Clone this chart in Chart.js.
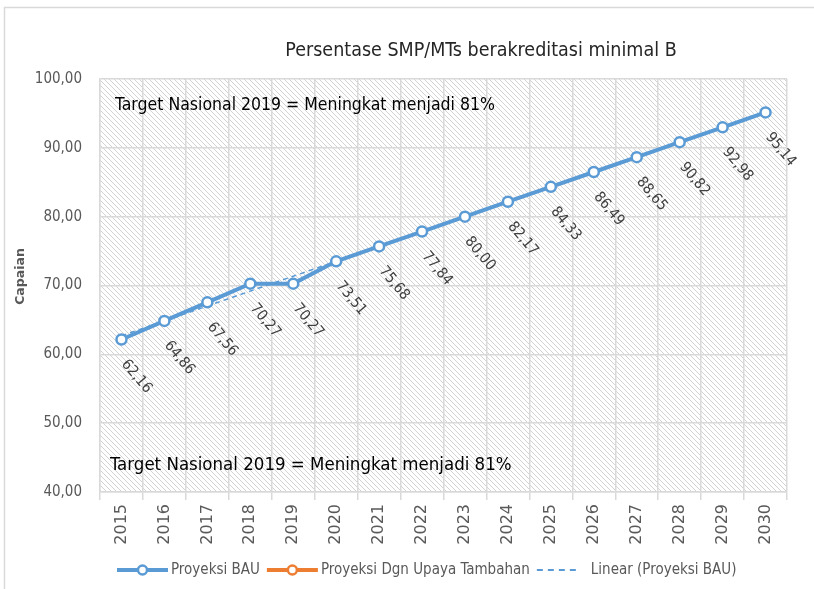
<!DOCTYPE html>
<html>
<head>
<meta charset="utf-8">
<script src="https://cdn.jsdelivr.net/npm/chart.js@4/dist/chart.umd.min.js"></script>
<style>
  html, body { margin: 0; padding: 0; background: #fff; }
  #wrap { width: 814px; height: 589px; }
</style>
</head>
<body>
<div id="wrap"><canvas id="c" width="814" height="589"></canvas></div>
<script>
// Categories and series
const years = ['2015','2016','2017','2018','2019','2020','2021','2022',
               '2023','2024','2025','2026','2027','2028','2029','2030'];
const proyeksiBAU = [62.16, 64.86, 67.56, 70.27, 70.27, 73.51, 75.68, 77.84,
                     80.00, 82.17, 84.33, 86.49, 88.65, 90.82, 92.98, 95.14];
const proyeksiUpaya = [];
const yMin = 40, yMax = 100, yStep = 10;

const chartTitle = 'Persentase SMP/MTs berakreditasi minimal B';
const targetNote = 'Target Nasional 2019 = Meningkat menjadi 81%';
const yTitle = 'Capaian';
const seriesNames = ['Proyeksi BAU', 'Proyeksi Dgn Upaya Tambahan', 'Linear (Proyeksi BAU)'];

// Least-squares trend of the BAU projection
function linearTrend(vals) {
  const n = vals.length;
  let sx = 0, sy = 0, sxy = 0, sxx = 0;
  vals.forEach((v, i) => { sx += i; sy += v; sxy += i * v; sxx += i * i; });
  const b = (n * sxy - sx * sy) / (n * sxx - sx * sx);
  const a = (sy - b * sx) / n;
  return vals.map((_, i) => a + b * i);
}
const trendBAU = linearTrend(proyeksiBAU);

const BLUE = '#5B9BD5', ORANGE = '#ED7D31', GRID = '#d9d9d9', AXIS_TXT = '#595959';
const NARROW = "'DejaVu Sans Condensed', 'Open Sans', sans-serif";
const WIDE = "'DejaVu Sans', Verdana, sans-serif";
const fmt = v => v.toFixed(2).replace('.', ',');

const canvas = document.getElementById('c');
const ctx0 = canvas.getContext('2d');

// Diagonal hatch used as the plot background
function makeHatch() {
  const s = 5;
  const t = document.createElement('canvas');
  t.width = s; t.height = s;
  const g = t.getContext('2d');
  g.fillStyle = '#ffffff';
  g.fillRect(0, 0, s, s);
  g.strokeStyle = '#d2d2d2';
  g.lineWidth = 1;
  g.beginPath();
  g.moveTo(-1, -1); g.lineTo(s + 1, s + 1);
  g.moveTo(-1, s - 1); g.lineTo(1, s + 1);
  g.moveTo(s - 1, -1); g.lineTo(s + 1, 1);
  g.stroke();
  return ctx0.createPattern(t, 'repeat');
}
const hatch = makeHatch();

const decor = {
  id: 'decor',
  beforeDraw(chart) {
    const { ctx, chartArea: a } = chart;
    ctx.save();
    ctx.fillStyle = '#ffffff';
    ctx.fillRect(0, 0, chart.width, chart.height);
    ctx.fillStyle = hatch;
    ctx.fillRect(a.left, a.top, a.right - a.left, a.bottom - a.top);
    // outer frame of the chart box
    ctx.strokeStyle = GRID;
    ctx.lineWidth = 1.5;
    ctx.strokeRect(4.5, 7.5, chart.width + 20, chart.height + 20);
    ctx.restore();
  },
  afterDatasetsDraw(chart) {
    // value labels, rotated, below each BAU point
    const { ctx } = chart;
    const meta = chart.getDatasetMeta(0);
    ctx.save();
    ctx.font = '15px ' + NARROW;
    ctx.fillStyle = '#404040';
    ctx.textAlign = 'center';
    ctx.textBaseline = 'middle';
    meta.data.forEach((pt, i) => {
      ctx.save();
      ctx.translate(pt.x + 15, pt.y + 37);
      ctx.rotate(50 * Math.PI / 180);
      ctx.fillText(fmt(proyeksiBAU[i]), 0, 0);
      ctx.restore();
    });
    ctx.restore();
  },
  afterDraw(chart) {
    const { ctx, chartArea: a } = chart;
    ctx.save();
    // title
    ctx.fillStyle = '#262626';
    ctx.font = '19.5px ' + NARROW;
    ctx.textAlign = 'center';
    ctx.textBaseline = 'alphabetic';
    ctx.fillText(chartTitle, 481, 56);

    // target notes
    ctx.textAlign = 'left';
    ctx.fillStyle = '#000000';
    ctx.font = '17.5px ' + NARROW;
    ctx.fillText(targetNote, a.left + 15, a.top + 31);
    ctx.font = '18.5px ' + NARROW;
    ctx.fillText(targetNote, a.left + 10, a.bottom - 22);

    // y-axis title
    ctx.save();
    ctx.translate(21, (a.top + a.bottom) / 2 - 9);
    ctx.rotate(-Math.PI / 2);
    ctx.font = 'bold 12.5px ' + WIDE;
    ctx.fillStyle = AXIS_TXT;
    ctx.textAlign = 'center';
    ctx.textBaseline = 'middle';
    ctx.fillText(yTitle, 0, 0);
    ctx.restore();

    // legend
    const ly = 570;
    let x = 117;
    ctx.font = '15px ' + NARROW;
    ctx.textBaseline = 'middle';
    chart.data.datasets.forEach((ds) => {
      const dashed = !!(ds.borderDash && ds.borderDash.length);
      const w = dashed ? 44 : 51;
      ctx.save();
      ctx.strokeStyle = ds.borderColor;
      ctx.lineWidth = dashed ? 2 : 4;
      if (dashed) ctx.setLineDash([6, 5]);
      ctx.beginPath();
      ctx.moveTo(x, ly); ctx.lineTo(x + w, ly);
      ctx.stroke();
      if (!dashed) {
        ctx.setLineDash([]);
        ctx.beginPath();
        ctx.arc(x + w / 2, ly, 4.5, 0, Math.PI * 2);
        ctx.fillStyle = '#ffffff';
        ctx.fill();
        ctx.lineWidth = 2.5;
        ctx.stroke();
      }
      ctx.restore();
      x += w + (dashed ? 10 : 3);
      ctx.fillStyle = AXIS_TXT;
      ctx.textAlign = 'left';
      ctx.fillText(ds.label, x, ly);
      x += ctx.measureText(ds.label).width + 7;
    });
    ctx.restore();
  }
};

new Chart(canvas, {
  type: 'line',
  data: {
    labels: years,
    datasets: [
      {
        label: seriesNames[0],
        data: proyeksiBAU,
        borderColor: BLUE,
        backgroundColor: BLUE,
        borderWidth: 4,
        pointRadius: 5,
        pointBorderWidth: 2.5,
        pointBackgroundColor: '#ffffff',
        pointBorderColor: BLUE,
        tension: 0
      },
      {
        label: seriesNames[1],
        data: proyeksiUpaya,
        borderColor: ORANGE,
        backgroundColor: ORANGE,
        borderWidth: 4,
        pointRadius: 5,
        pointBorderWidth: 2.5,
        pointBackgroundColor: '#ffffff',
        pointBorderColor: ORANGE
      },
      {
        label: seriesNames[2],
        data: trendBAU,
        borderColor: BLUE,
        borderWidth: 1.5,
        borderDash: [5, 4],
        pointRadius: 0,
        tension: 0
      }
    ]
  },
  options: {
    responsive: false,
    devicePixelRatio: 1,
    animation: false,
    events: [],
    layout: { padding: { left: 0, top: 79, right: 27, bottom: 0 } },
    plugins: {
      legend: { display: false },
      title: { display: false },
      tooltip: { enabled: false }
    },
    scales: {
      x: {
        offset: true,
        grid: { offset: true, color: GRID, lineWidth: 1.5, tickLength: 8, drawTicks: true },
        border: { color: GRID, width: 1.5 },
        ticks: {
          maxRotation: 90, minRotation: 90, padding: 4,
          color: AXIS_TXT,
          font: { family: WIDE, size: 16 }
        },
        afterFit(s) { s.height = 97; }
      },
      y: {
        min: yMin, max: yMax,
        grid: { color: GRID, lineWidth: 1.5, drawTicks: false },
        border: { color: GRID, width: 1.5 },
        ticks: {
          stepSize: yStep, padding: 18,
          color: AXIS_TXT,
          font: { family: NARROW, size: 15 },
          callback: v => fmt(v)
        },
        afterFit(s) { s.width = 100; }
      }
    }
  },
  plugins: [decor]
});
</script>
</body>
</html>
